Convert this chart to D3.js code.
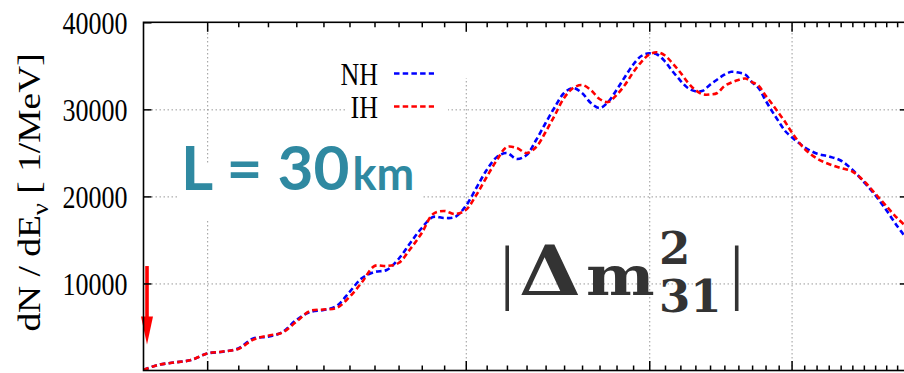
<!DOCTYPE html>
<html>
<head>
<meta charset="utf-8">
<script src="https://cdn.jsdelivr.net/npm/d3@7"></script>
<style>
  html, body { margin: 0; padding: 0; background: #fff; }
  svg { display: block; }
</style>
</head>
<body>
<script>
// Neutrino energy (MeV) at which the spectra are sampled
const energy = [1.81, 1.85, 1.90, 1.95, 2.00, 2.05, 2.10, 2.15, 2.20, 2.25, 2.30, 2.35, 2.40, 2.45,
  2.50, 2.55, 2.60, 2.65, 2.70, 2.75, 2.80, 2.85, 2.90, 2.95, 3.00, 3.05, 3.10, 3.15, 3.20, 3.25,
  3.30, 3.35, 3.40, 3.45, 3.50, 3.55, 3.60, 3.65, 3.70, 3.75, 3.80, 3.85, 3.90, 3.95, 4.00, 4.05,
  4.10, 4.15, 4.20, 4.25, 4.30, 4.35, 4.40, 4.45, 4.50, 4.55, 4.60, 4.65, 4.70, 4.75, 4.80, 4.85,
  4.90, 4.95, 5.00, 5.10, 5.20, 5.30, 5.40, 5.50, 5.60, 5.70, 5.80, 5.90, 6.00];

// dN/dE for normal hierarchy
const nhRate = [50, 630, 920, 1200, 1950, 2150, 2530, 3680, 3880, 4400, 5800, 6720, 6950, 7409,
  9017, 10625, 11315, 11544, 12808, 14646, 16369, 17633, 17518, 17633, 18896, 20964, 23031, 24525, 24984, 24295,
  24754, 26478, 28430, 30268, 31876, 32451, 31876, 30728, 30153, 30843, 32221, 33714, 35127, 36127, 36437, 36299,
  35495, 34346, 33312, 32451, 32072, 32129, 32830, 33427, 33979, 34312, 34231, 34002, 33106, 32393, 31038, 29774,
  28603, 27511, 26822, 25674, 24927, 24605, 24123, 23066, 21653, 20159, 18437, 16599, 14991];

// dN/dE for inverted hierarchy
const ihRate = [50, 630, 920, 1200, 1950, 2180, 2480, 3550, 4000, 4350, 5600, 6835, 7007, 7179,
  8443, 10166, 12004, 12004, 12349, 13957, 15795, 17977, 18322, 17977, 18437, 20159, 22227, 24180, 25674, 25559,
  24984, 25674, 27397, 29349, 31302, 32451, 32796, 32221, 31188, 30843, 31647, 32796, 34231, 35437, 36299, 36552,
  36184, 35265, 34231, 33083, 32221, 31727, 31704, 31876, 32680, 33083, 33370, 33542, 33140, 32680, 31589, 30613,
  29579, 28545, 27397, 25501, 24375, 23721, 23261, 22859, 21768, 20332, 18896, 17518, 16369];

const seriesNames = ["NH", "IH"];
const yTickValues = [10000, 20000, 30000, 40000];
const xMajorTicks = [2, 3, 4, 5];
const xMinorTicks = [2.1, 2.2, 2.3, 2.4, 2.5, 2.6, 2.7, 2.8, 2.9,
  3.1, 3.2, 3.3, 3.4, 3.5, 3.6, 3.7, 3.8, 3.9,
  4.1, 4.2, 4.3, 4.4, 4.5, 4.6, 4.7, 4.8, 4.9,
  5.1, 5.2, 5.3, 5.4, 5.5, 5.6, 5.7, 5.8, 5.9];
const thresholdEnergy = 1.82;
const arrowFrom = 12000, arrowTo = 3000;

const W = 904, H = 373;
const L = 143.5, R = 907.85, T = 22.3, B = 370.5;

const x = d3.scaleLog().domain([1.81, 6]).range([L, R]);
const y = d3.scaleLinear().domain([0, 40000]).range([B, T]);

const svg = d3.select("body").append("svg")
  .attr("width", W).attr("height", H)
  .attr("viewBox", `0 0 ${W} ${H}`);

svg.append("rect").attr("width", W).attr("height", H).attr("fill", "#fff");

svg.append("defs").append("clipPath").attr("id", "plotClip")
  .append("rect").attr("x", L).attr("y", T).attr("width", R - L).attr("height", B - T);

// dotted grid at the major ticks
const gridStyle = g => {
  g.select(".domain").remove();
  g.selectAll(".tick line").attr("stroke", "#9a9a9a").attr("stroke-width", 1)
    .attr("stroke-dasharray", "1.5,2.5");
  g.selectAll(".tick text").remove();
};
svg.append("g").attr("transform", `translate(0,${B})`)
  .call(d3.axisBottom(x).tickValues(xMajorTicks).tickSize(-(B - T)).tickFormat(""))
  .call(gridStyle);
svg.append("g").attr("transform", `translate(${L},0)`)
  .call(d3.axisLeft(y).tickValues([10000, 20000, 30000]).tickSize(-(R - L)).tickFormat(""))
  .call(gridStyle);

// opaque boxes behind the key and the baseline annotation
svg.append("rect").attr("x", 346).attr("y", 40).attr("width", 102).attr("height", 84).attr("fill", "#fff");
svg.append("rect").attr("x", 448).attr("y", 23).attr("width", 24).attr("height", 55).attr("fill", "#fff");
svg.append("rect").attr("x", 178).attr("y", 165).attr("width", 244).attr("height", 55).attr("fill", "#fff");

// spectra
const colors = { NH: "#0000ff", IH: "#ff0000" };
const series = [
  { name: "NH", values: energy.map((e, i) => ({ e, v: nhRate[i] })) },
  { name: "IH", values: energy.map((e, i) => ({ e, v: ihRate[i] })) }
];
const line = d3.line().x(d => x(d.e)).y(d => y(d.v)).curve(d3.curveCatmullRom.alpha(0.5));
svg.append("g").attr("clip-path", "url(#plotClip)")
  .selectAll("path").data(series).join("path")
  .attr("d", d => line(d.values))
  .attr("fill", "none")
  .attr("stroke", d => colors[d.name])
  .attr("stroke-width", 2.6)
  .attr("stroke-dasharray", "5.5,3.2");

// key
const key = svg.append("g");
seriesNames.forEach((name, i) => {
  const cy = 73.5 + i * 33;
  key.append("text")
    .attr("transform", `translate(378,${cy}) scale(1,1.25)`)
    .attr("text-anchor", "end").attr("dy", "0.34em")
    .attr("font-family", "Liberation Serif").attr("font-size", 26)
    .attr("fill", "#000").text(name);
  key.append("line")
    .attr("x1", 394).attr("x2", 434).attr("y1", cy).attr("y2", cy)
    .attr("stroke", colors[name]).attr("stroke-width", 2.6)
    .attr("stroke-dasharray", "5.5,3.2");
});

// baseline annotation
const ann = svg.append("text")
  .attr("x", 181).attr("y", 190)
  .attr("font-family", "Lato").attr("font-weight", 700)
  .attr("fill", "#2f89a1");
ann.append("tspan").attr("font-size", 62).text("L = 30");
ann.append("tspan").attr("font-size", 45).attr("dx", 3).text("km");

// |Δm²31| label
const ink = "#333333";
const math = svg.append("g").attr("fill", ink);
math.append("text").attr("x", 507.3).attr("y", 296.3).attr("text-anchor", "middle")
  .attr("font-family", "Liberation Serif").attr("font-size", 72).text("|");
math.append("text").attr("x", 736.7).attr("y", 296.3).attr("text-anchor", "middle")
  .attr("font-family", "Liberation Serif").attr("font-size", 72).text("|");
math.append("text").attr("transform", "translate(519,295) scale(1.14,1)")
  .attr("font-family", "DejaVu Serif").attr("font-weight", 700).attr("font-size", 70).text("Δ");
math.append("text").attr("transform", "translate(586,295) scale(1.18,1)")
  .attr("font-family", "DejaVu Serif").attr("font-weight", 700).attr("font-size", 55).text("m");
const idx = math.append("text")
  .attr("font-family", "DejaVu Serif").attr("font-weight", 700).attr("font-size", 45);
idx.append("tspan").attr("x", 659).attr("y", 263.5).text("2");
idx.append("tspan").attr("x", 659).attr("y", 311.5).text("31");

// threshold arrow
svg.append("line")
  .attr("x1", x(thresholdEnergy)).attr("x2", x(thresholdEnergy))
  .attr("y1", y(arrowFrom)).attr("y2", y(arrowTo) - 24)
  .attr("stroke", "#ff0000").attr("stroke-width", 3.6);
svg.append("path")
  .attr("d", `M${x(thresholdEnergy) - 6},${y(arrowTo) - 28} L${x(thresholdEnergy) + 6},${y(arrowTo) - 28} L${x(thresholdEnergy)},${y(arrowTo)} Z`)
  .attr("fill", "#ff0000");

// ticks
const tickStyle = g => {
  g.select(".domain").remove();
  g.selectAll(".tick line").attr("stroke", "#000").attr("stroke-width", 1.5);
};
svg.append("g").attr("transform", `translate(0,${B})`)
  .call(d3.axisBottom(x).tickValues(xMajorTicks).tickSize(-9.5).tickFormat("")).call(tickStyle);
svg.append("g").attr("transform", `translate(0,${B})`)
  .call(d3.axisBottom(x).tickValues(xMinorTicks).tickSize(-5).tickFormat("")).call(tickStyle);
svg.append("g").attr("transform", `translate(0,${T})`)
  .call(d3.axisTop(x).tickValues(xMajorTicks).tickSize(-9.5).tickFormat("")).call(tickStyle);
svg.append("g").attr("transform", `translate(0,${T})`)
  .call(d3.axisTop(x).tickValues(xMinorTicks).tickSize(-5).tickFormat("")).call(tickStyle);
svg.append("g").attr("transform", `translate(${R},0)`)
  .call(d3.axisRight(y).tickValues([10000, 20000, 30000]).tickSize(-8).tickFormat("")).call(tickStyle);

const yAxis = svg.append("g").attr("transform", `translate(${L},0)`)
  .call(d3.axisLeft(y).tickValues(yTickValues).tickSize(-8).tickPadding(16).tickFormat(d3.format("d")))
  .call(tickStyle);
yAxis.selectAll(".tick text")
  .attr("font-family", "Liberation Serif").attr("font-size", 26).attr("fill", "#000")
  .attr("dy", "0.34em").attr("transform", "scale(1,1.25)");

// frame
svg.append("rect").attr("x", L).attr("y", T).attr("width", R - L).attr("height", B - T)
  .attr("fill", "none").attr("stroke", "#000").attr("stroke-width", 1.6);

// y axis title
const yTitle = svg.append("text")
  .attr("transform", "translate(39.5,192.5) rotate(-90) scale(1.17,1)")
  .attr("text-anchor", "middle")
  .attr("font-family", "Liberation Serif").attr("font-size", 32).attr("fill", "#000");
yTitle.append("tspan").text("dN / dE");
yTitle.append("tspan").attr("font-size", 23).attr("dy", 8).text("ν");
yTitle.append("tspan").attr("dy", -8).text(" [ 1/MeV]");
</script>
</body>
</html>
